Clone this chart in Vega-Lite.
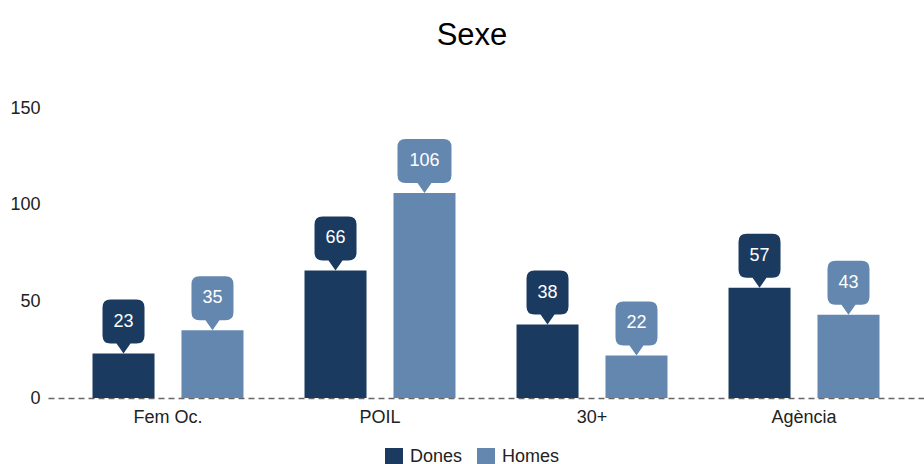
{
  "$schema": "https://vega.github.io/schema/vega-lite/v6.json",
  "width": 876,
  "height": 290,
  "autosize": {"type": "none"},
  "padding": {"left": 48, "top": 108, "right": 0, "bottom": 66},
  "background": "white",
  "title": {"text": "Sexe", "fontSize": 31, "font": "Liberation Sans", "fontWeight": "normal", "color": "#000000", "anchor": "middle", "dx": -14, "offset": 23, "baseline": "alphabetic"},
  "config": {
    "view": {"stroke": null},
    "font": "Liberation Sans"
  },
  "data": {"values": [
    {"cat": "Fem Oc.", "sexe": "Dones", "value": 23},
    {"cat": "Fem Oc.", "sexe": "Homes", "value": 35},
    {"cat": "POIL", "sexe": "Dones", "value": 66},
    {"cat": "POIL", "sexe": "Homes", "value": 106},
    {"cat": "30+", "sexe": "Dones", "value": 38},
    {"cat": "30+", "sexe": "Homes", "value": 22},
    {"cat": "Agència", "sexe": "Dones", "value": 57},
    {"cat": "Agència", "sexe": "Homes", "value": 43}
  ]},
  "encoding": {
    "x": {"field": "cat", "type": "nominal", "sort": ["Fem Oc.", "POIL", "30+", "Agència"],
      "scale": {"paddingInner": 0, "paddingOuter": 0.066},
      "axis": {"title": null, "labelAngle": 0, "labelFontSize": 18, "labelColor": "#222222", "ticks": false, "tickSize": 0, "labelPadding": 10,
        "domain": true, "domainColor": "#666666", "domainDash": [6, 4], "domainWidth": 1.5}},
    "xOffset": {"field": "sexe", "type": "nominal", "scale": {"paddingInner": 0.303, "paddingOuter": 0.343}},
    "y": {"field": "value", "type": "quantitative", "scale": {"domain": [0, 150]},
      "axis": {"title": null, "values": [0, 50, 100, 150], "grid": false, "domain": false, "ticks": false, "tickSize": 0, "labelPadding": 8, "labelFontSize": 18, "labelColor": "#222222"}}
  },
  "layer": [
    {
      "mark": {"type": "bar"},
      "encoding": {
        "color": {"field": "sexe", "type": "nominal",
          "scale": {"domain": ["Dones", "Homes"], "range": ["#1b3a5f", "#6487b0"]},
          "legend": {"title": null, "orient": "none", "legendX": 337, "legendY": 340, "direction": "horizontal", "symbolType": "square", "symbolSize": 324, "symbolStrokeWidth": 0, "labelFontSize": 18, "labelColor": "#222222", "labelOffset": 7, "columnPadding": 14}}
      }
    },
    {
      "mark": {"type": "point", "filled": true, "opacity": 1, "size": 400, "strokeWidth": 0},
      "encoding": {
        "fill": {"field": "sexe", "type": "nominal", "scale": {"domain": ["Dones", "Homes"], "range": ["#1b3a5f", "#6487b0"]}, "legend": null},
        "shape": {
          "condition": {"test": "datum.value >= 100", "value": "M0,0 L-0.7,-1 L-1.9,-1 Q-2.7,-1 -2.7,-1.8 L-2.7,-4.6 Q-2.7,-5.4 -1.9,-5.4 L1.9,-5.4 Q2.7,-5.4 2.7,-4.6 L2.7,-1.8 Q2.7,-1 1.9,-1 L0.7,-1 Z"},
          "value": "M0,0 L-0.7,-1 L-1.3,-1 Q-2.1,-1 -2.1,-1.8 L-2.1,-4.6 Q-2.1,-5.4 -1.3,-5.4 L1.3,-5.4 Q2.1,-5.4 2.1,-4.6 L2.1,-1.8 Q2.1,-1 1.3,-1 L0.7,-1 Z"
        }
      }
    },
    {
      "mark": {"type": "text", "dy": -32, "baseline": "middle", "align": "center", "fontSize": 18, "color": "#ffffff"},
      "encoding": {
        "text": {"field": "value", "type": "quantitative"}
      }
    }
  ]
}
